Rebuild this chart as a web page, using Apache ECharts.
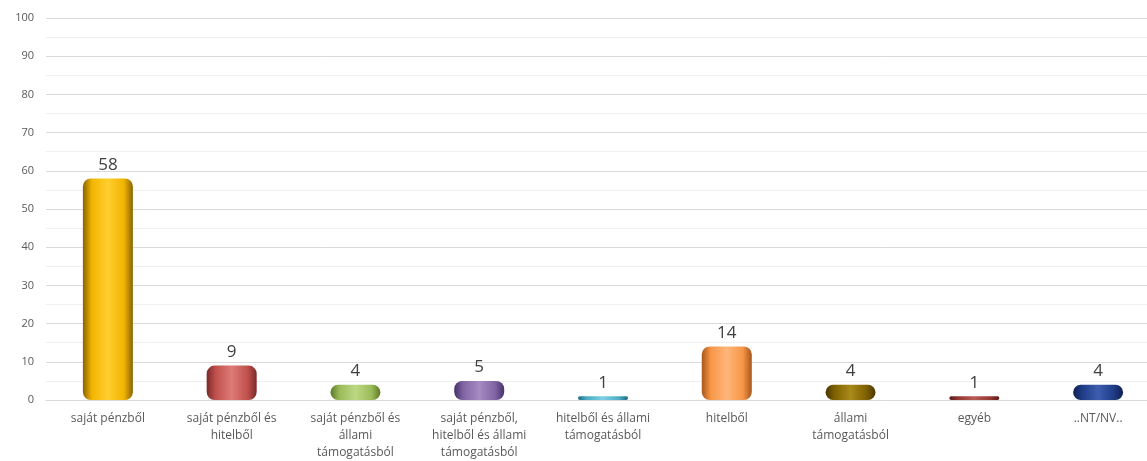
<!DOCTYPE html>
<html>
<head>
<meta charset="utf-8">
<script src="https://cdn.jsdelivr.net/npm/echarts@6/dist/echarts.min.js"></script>
<style>
  html, body { margin: 0; padding: 0; background: #ffffff; overflow: hidden; width: 1147px; height: 461px; }
  #chart { width: 1160px; height: 461px; }
</style>
</head>
<body>
<div id="chart"></div>
<script>
// Forrás szerinti megoszlás (darab)
const categories = [
  'saját pénzből',
  'saját pénzből és\nhitelből',
  'saját pénzből és\nállami\ntámogatásból',
  'saját pénzből,\nhitelből és állami\ntámogatásból',
  'hitelből és állami\ntámogatásból',
  'hitelből',
  'állami\ntámogatásból',
  'egyéb',
  '..NT/NV..'
];
const values = [58, 9, 4, 5, 1, 14, 4, 1, 4];
const yTicks = [0, 10, 20, 30, 40, 50, 60, 70, 80, 90, 100];

// Henger-színek: [sötét perem, alapszín, világos közép]
const palette = [
  ['#8a6400', '#f2b400', '#ffcf2e'],
  ['#7a2a28', '#c0504d', '#de7a76'],
  ['#5c7a25', '#9bbb59', '#bcd883'],
  ['#45306a', '#8064a2', '#a58cc4'],
  ['#1f6a80', '#4bacc6', '#7fd0e4'],
  ['#a8561a', '#f79646', '#ffb67a'],
  ['#4a3600', '#7f6000', '#a88a1a'],
  ['#5a1a18', '#943634', '#b85a56'],
  ['#0f2050', '#1f3b86', '#3d5db0']
];

function cylinder(c) {
  return new echarts.graphic.LinearGradient(0, 0, 1, 0, [
    { offset: 0, color: c[0] },
    { offset: 0.18, color: c[1] },
    { offset: 0.5, color: c[2] },
    { offset: 0.82, color: c[1] },
    { offset: 1, color: c[0] }
  ]);
}

const chart = echarts.init(document.getElementById('chart'), null, { renderer: 'canvas' });

chart.setOption({
  animation: false,
  backgroundColor: '#ffffff',
  grid: { left: 46, right: 0, top: 18, bottom: 61, containLabel: false },
  xAxis: {
    type: 'category',
    data: categories,
    axisLine: { show: true, lineStyle: { color: '#d9d9d9', width: 1 } },
    axisTick: { show: false },
    axisLabel: {
      interval: 0,
      color: '#595959',
      fontFamily: 'Open Sans',
      fontSize: 12,
      lineHeight: 17,
      margin: 10
    }
  },
  yAxis: {
    type: 'value',
    min: yTicks[0],
    max: yTicks[yTicks.length - 1],
    interval: 10,
    axisLine: { show: false },
    axisTick: { show: false },
    axisLabel: {
      color: '#595959',
      fontFamily: 'Open Sans',
      fontSize: 11,
      margin: 12
    },
    splitLine: { show: true, lineStyle: { color: '#d9d9d9', width: 1 } },
    minorTick: { show: false, splitNumber: 2 },
    minorSplitLine: { show: true, lineStyle: { color: '#efefef', width: 1 } }
  },
  series: [{
    type: 'bar',
    barWidth: 50,
    data: values.map((v, i) => ({
      value: v,
      itemStyle: {
        color: cylinder(palette[i]),
        borderRadius: 8
      }
    })),
    label: {
      show: true,
      position: 'top',
      distance: 5,
      color: '#404040',
      fontFamily: 'Open Sans',
      fontSize: 17
    }
  }]
});
</script>
</body>
</html>
